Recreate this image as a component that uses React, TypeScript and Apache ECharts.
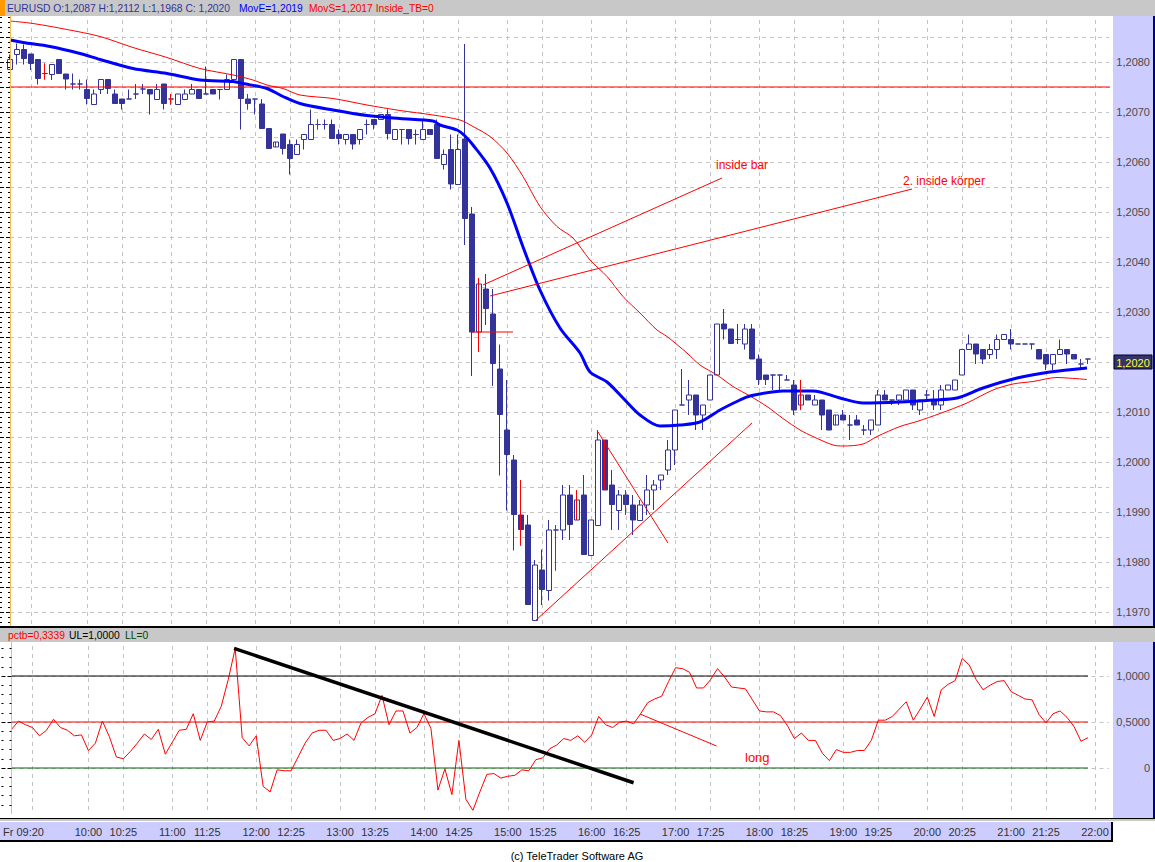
import React, { useEffect, useRef } from "react";
import * as echarts from "echarts";

// ---------- axis / tick labels ----------
const TICK_LABELS = [
  "09:20", "10:00", "10:25", "11:00", "11:25", "12:00", "12:25", "13:00", "13:25",
  "14:00", "14:25", "15:00", "15:25", "16:00", "16:25", "17:00", "17:25", "18:00",
  "18:25", "19:00", "19:25", "20:00", "20:25", "21:00", "21:25", "22:00",
];
const FIRST_SLOT = "09:05";
const SLOT_COUNT = 158; // 5-minute slots 09:05 .. 22:10
const PRICE_MIN = 1.1965;
const PRICE_MAX = 1.209;
const PRICE_STEP = 0.0005;
const PCT_MIN = -0.5;
const PCT_MAX = 1.5;
const PCT_STEP = 0.5;
const LAST_PRICE = 1.202;
const MARK_LEVEL = 1.2075;
const MARK_SPAN = [-1.43, 157.57]; // horizontal level drawn across the whole panel

// ---------- candles: [open, close, low, high] ----------
const CANDLES: number[][] = [
  [1.20785, 1.20805, 1.20785, 1.20815], [1.20815, 1.20825, 1.20795, 1.20837], [1.20825, 1.20807, 1.20795, 1.20835],
  [1.20816, 1.20797, 1.20784, 1.20816], [1.20805, 1.20767, 1.20755, 1.20805], [1.20777, 1.20777, 1.20765, 1.20797],
  [1.20775, 1.20795, 1.20764, 1.20795], [1.20805, 1.20777, 1.20777, 1.20805], [1.20776, 1.20766, 1.20745, 1.20776],
  [1.20756, 1.20756, 1.20745, 1.20777], [1.20756, 1.20756, 1.20745, 1.20765], [1.20745, 1.20727, 1.20715, 1.20765],
  [1.20715, 1.20736, 1.20715, 1.20745], [1.20745, 1.20765, 1.20736, 1.20765], [1.20765, 1.20747, 1.20736, 1.20765],
  [1.20736, 1.20717, 1.20717, 1.20745], [1.20726, 1.20717, 1.20705, 1.20726], [1.20726, 1.20726, 1.20726, 1.20745],
  [1.20736, 1.20736, 1.20726, 1.20756], [1.20746, 1.20746, 1.20736, 1.20756], [1.20745, 1.20736, 1.20695, 1.20745],
  [1.20725, 1.20745, 1.20725, 1.20756], [1.20756, 1.20717, 1.20705, 1.20756], [1.20726, 1.20726, 1.20715, 1.20736],
  [1.20715, 1.20736, 1.20715, 1.20736], [1.20725, 1.20736, 1.20725, 1.20745], [1.20736, 1.20745, 1.20736, 1.20756],
  [1.20745, 1.20727, 1.20727, 1.20745], [1.20736, 1.20736, 1.20736, 1.20791], [1.20745, 1.20736, 1.20736, 1.20745],
  [1.20745, 1.20745, 1.20725, 1.20745], [1.20745, 1.20765, 1.20745, 1.20775], [1.20765, 1.20805, 1.20765, 1.20805],
  [1.20805, 1.20727, 1.20665, 1.20805], [1.20726, 1.20717, 1.20705, 1.20736], [1.20726, 1.20726, 1.20695, 1.20726],
  [1.20716, 1.20667, 1.20667, 1.20726], [1.20667, 1.20627, 1.20627, 1.20667], [1.2063, 1.2064, 1.2063, 1.2064],
  [1.20656, 1.20627, 1.20615, 1.20656], [1.20635, 1.20607, 1.20575, 1.20645], [1.20615, 1.20635, 1.20615, 1.20645],
  [1.20645, 1.20655, 1.20625, 1.20655], [1.20645, 1.20675, 1.20645, 1.20705], [1.20675, 1.20675, 1.20665, 1.20685],
  [1.20675, 1.20675, 1.20665, 1.20685], [1.20675, 1.20647, 1.20647, 1.20685], [1.20655, 1.20647, 1.20635, 1.20665],
  [1.20645, 1.20655, 1.20635, 1.20655], [1.20655, 1.20636, 1.20625, 1.20655], [1.20645, 1.20665, 1.20635, 1.20665],
  [1.20675, 1.20675, 1.20655, 1.20685], [1.20685, 1.20675, 1.20665, 1.20685], [1.20685, 1.20695, 1.20685, 1.20695],
  [1.20695, 1.20657, 1.20645, 1.20705], [1.20645, 1.20665, 1.20645, 1.20665], [1.20665, 1.20665, 1.20635, 1.20665],
  [1.20665, 1.20647, 1.20635, 1.20665], [1.20655, 1.20655, 1.20635, 1.20665], [1.20645, 1.20665, 1.20645, 1.20685],
  [1.20665, 1.20655, 1.20655, 1.20665], [1.20675, 1.20607, 1.20607, 1.20685], [1.20595, 1.20615, 1.20585, 1.20625],
  [1.20625, 1.20556, 1.20545, 1.20655], [1.20555, 1.20625, 1.20555, 1.20655], [1.20646, 1.20487, 1.20434, 1.20836],
  [1.20496, 1.2026, 1.20172, 1.2051], [1.2026, 1.20356, 1.2022, 1.20368], [1.20346, 1.20307, 1.20274, 1.20376],
  [1.20296, 1.20197, 1.20152, 1.20346], [1.20186, 1.20095, 1.19973, 1.20235], [1.20064, 1.20015, 1.19903, 1.20164],
  [1.20004, 1.19895, 1.19823, 1.20014], [1.19894, 1.19865, 1.19833, 1.19964], [1.19874, 1.19715, 1.19715, 1.19894],
  [1.19683, 1.19794, 1.19683, 1.19804], [1.19784, 1.19745, 1.19714, 1.19825], [1.19743, 1.19864, 1.19723, 1.19884],
  [1.19864, 1.19864, 1.19783, 1.19874], [1.19864, 1.19934, 1.19844, 1.19954], [1.19934, 1.19875, 1.19844, 1.19954],
  [1.19884, 1.19924, 1.19884, 1.19944], [1.19934, 1.19815, 1.19815, 1.19974], [1.19813, 1.19884, 1.19813, 1.19884],
  [1.19873, 1.20044, 1.19873, 1.20064], [1.20044, 1.19944, 1.19944, 1.20044], [1.19954, 1.19915, 1.19864, 1.19984],
  [1.19903, 1.19934, 1.19864, 1.19944], [1.19934, 1.19915, 1.19894, 1.19944], [1.19914, 1.19884, 1.19854, 1.19934],
  [1.19883, 1.19914, 1.19883, 1.19924], [1.19914, 1.19944, 1.19894, 1.19974], [1.19944, 1.19954, 1.19904, 1.19964],
  [1.19964, 1.19974, 1.19944, 1.19974], [1.19984, 1.20024, 1.19974, 1.20044], [1.20024, 1.20104, 1.19994, 1.20104],
  [1.20114, 1.20114, 1.20114, 1.20186], [1.20124, 1.20134, 1.20094, 1.20164], [1.20134, 1.20094, 1.20064, 1.20134],
  [1.20094, 1.20114, 1.20064, 1.20114], [1.20124, 1.20174, 1.20124, 1.20174], [1.20174, 1.20276, 1.20174, 1.20276],
  [1.20276, 1.20266, 1.20245, 1.20306], [1.20266, 1.20237, 1.20237, 1.20266], [1.20245, 1.20245, 1.20236, 1.20276],
  [1.20236, 1.20266, 1.20225, 1.20276], [1.20266, 1.20206, 1.20206, 1.20276], [1.20206, 1.20165, 1.20154, 1.20215],
  [1.20174, 1.20165, 1.20154, 1.20174], [1.20174, 1.20174, 1.20144, 1.20174], [1.20174, 1.20174, 1.20144, 1.20174],
  [1.20164, 1.20164, 1.20164, 1.20174], [1.20154, 1.20104, 1.20094, 1.20164], [1.20114, 1.20134, 1.20104, 1.20164],
  [1.20134, 1.20124, 1.20124, 1.20134], [1.20114, 1.20124, 1.20114, 1.20134], [1.20124, 1.20094, 1.20064, 1.20124],
  [1.20104, 1.20064, 1.20064, 1.20104], [1.20074, 1.20094, 1.20074, 1.20094], [1.20094, 1.20084, 1.20084, 1.20104],
  [1.20074, 1.20074, 1.20044, 1.20094], [1.20084, 1.20074, 1.20074, 1.20094], [1.20064, 1.20064, 1.20054, 1.20074],
  [1.20064, 1.20084, 1.20054, 1.20084], [1.20074, 1.20134, 1.20074, 1.20144], [1.20134, 1.20124, 1.20124, 1.20144],
  [1.20124, 1.20124, 1.20114, 1.20124], [1.20124, 1.20134, 1.20114, 1.20134], [1.20124, 1.20144, 1.20124, 1.20144],
  [1.20144, 1.20114, 1.20104, 1.20144], [1.20104, 1.20124, 1.20094, 1.20124], [1.20134, 1.20134, 1.20124, 1.20144],
  [1.20124, 1.20114, 1.20104, 1.20144], [1.20114, 1.20144, 1.20104, 1.20154], [1.20144, 1.20154, 1.20144, 1.20154],
  [1.20144, 1.20164, 1.20144, 1.20164], [1.20174, 1.20225, 1.20174, 1.20225], [1.20225, 1.20236, 1.20225, 1.20255],
  [1.20236, 1.20216, 1.20196, 1.20236], [1.20225, 1.20206, 1.20196, 1.20225], [1.20215, 1.20225, 1.20206, 1.20236],
  [1.20225, 1.20245, 1.20206, 1.20255], [1.20245, 1.20255, 1.20245, 1.20255], [1.20245, 1.20236, 1.20225, 1.20266],
  [1.20236, 1.20236, 1.20236, 1.20236], [1.20236, 1.20236, 1.20236, 1.20236], [1.20236, 1.20236, 1.20225, 1.20236],
  [1.20225, 1.20206, 1.20206, 1.20225], [1.20215, 1.20196, 1.20184, 1.20215], [1.20196, 1.20215, 1.20184, 1.20215],
  [1.20215, 1.20225, 1.20215, 1.20245], [1.20225, 1.20216, 1.20196, 1.20225], [1.20215, 1.20206, 1.20206, 1.20215],
  [1.20196, 1.20196, 1.20186, 1.20206], [1.20206, 1.20206, 1.20196, 1.20206],
];
// candles flagged in red (inside bars)
const RED_BARS = [5, 23, 34, 38, 44, 60, 67, 73, 78, 81, 85, 88, 113, 114, 118, 144, 152];

// ---------- moving averages: [bar position, price] ----------
const MOV_E: number[][] = [
  [0, 1.20844], [1.86, 1.20839], [5.71, 1.20831], [10, 1.20817], [12.86, 1.20805], [17.57, 1.20787],
  [22.43, 1.20777], [27.14, 1.20764], [31.86, 1.20761], [33.29, 1.20757], [36.71, 1.20747], [39, 1.20731],
  [41.43, 1.20717], [46.14, 1.20704], [51, 1.20693], [55.71, 1.20687], [60.43, 1.20682], [61.43, 1.20674],
  [63.86, 1.20664], [65, 1.20652], [66.14, 1.20634], [68.57, 1.20588], [71, 1.20518], [73.29, 1.2043],
  [75.71, 1.20344], [78.57, 1.20268], [81.43, 1.20218], [82.86, 1.2018], [85.29, 1.2016], [87.57, 1.20128],
  [90, 1.20094], [92.86, 1.20072], [95.71, 1.20074], [98.57, 1.2008], [101.43, 1.20104], [104.29, 1.20124],
  [105.71, 1.20132], [110.43, 1.20142], [114.71, 1.20142], [118.57, 1.20128], [121.86, 1.20118],
  [127.14, 1.2012], [131.86, 1.20124], [135.29, 1.20128], [139, 1.20148], [143.86, 1.20168],
  [148.57, 1.2018], [153.86, 1.20188],
];
const MOV_S: number[][] = [
  [0, 1.20882], [3.29, 1.20877], [8.14, 1.20865], [12.86, 1.20851], [17.57, 1.20829], [22.43, 1.20809],
  [27.14, 1.20787], [31.86, 1.20774], [34.71, 1.20764], [36.71, 1.20754], [39, 1.20747], [41.43, 1.20734],
  [46.14, 1.20727], [51, 1.20714], [55.71, 1.20703], [60.43, 1.20694], [64.29, 1.20684], [66.14, 1.20671],
  [68.57, 1.20651], [71, 1.20618], [73.29, 1.20571], [75.71, 1.20511], [78.14, 1.20471], [80.43, 1.20448],
  [82.86, 1.20404], [85.29, 1.20371], [87.57, 1.20331], [90, 1.20298], [92.43, 1.20264], [93.86, 1.20251],
  [96.71, 1.20218], [98.57, 1.20194], [101, 1.20174], [103.29, 1.20151], [105.71, 1.20132], [108.14, 1.20111],
  [110.43, 1.20087], [112.86, 1.20064], [114.71, 1.20051], [117.57, 1.20034], [119, 1.20032],
  [121.86, 1.20036], [123.86, 1.20051], [127.14, 1.20071], [129.57, 1.20081], [132.86, 1.20097],
  [136.71, 1.20118], [140.43, 1.20144], [143.29, 1.20156], [146.14, 1.20161], [149.57, 1.20169],
  [151, 1.20168], [153.86, 1.20165],
];

// ---------- %b indicator ----------
const PCTB = [
  0.42, 0.51, 0.47, 0.44, 0.35, 0.41, 0.53, 0.44, 0.41, 0.35, 0.36, 0.19, 0.27, 0.51, 0.34, 0.12, 0.1, 0.18,
  0.27, 0.37, 0.31, 0.42, 0.15, 0.28, 0.41, 0.42, 0.59, 0.3, 0.5, 0.51, 0.67, 0.96, 1.3, 0.33, 0.24, 0.35,
  -0.2, -0.26, -0.02, -0.03, -0.03, 0.12, 0.27, 0.38, 0.41, 0.41, 0.3, 0.32, 0.37, 0.3, 0.49, 0.55, 0.59, 0.79,
  0.47, 0.62, 0.62, 0.38, 0.44, 0.59, 0.43, -0.24, -0.01, -0.29, 0.3, -0.34, -0.46, -0.26, -0.07, -0.06, -0.11,
  -0.09, -0.08, -0.02, -0.03, 0.09, 0.11, 0.21, 0.25, 0.32, 0.3, 0.35, 0.28, 0.36, 0.56, 0.47, 0.44, 0.5, 0.51,
  0.48, 0.59, 0.71, 0.75, 0.78, 0.94, 1.09, 1.08, 1.04, 0.87, 0.87, 0.96, 1.08, 0.99, 0.88, 0.87, 0.86, 0.74,
  0.62, 0.61, 0.61, 0.57, 0.46, 0.32, 0.38, 0.3, 0.3, 0.16, 0.08, 0.2, 0.17, 0.17, 0.19, 0.19, 0.3, 0.52, 0.52,
  0.56, 0.64, 0.72, 0.52, 0.64, 0.77, 0.56, 0.85, 0.91, 0.95, 1.19, 1.12, 0.96, 0.85, 0.9, 0.94, 0.95, 0.83,
  0.79, 0.75, 0.74, 0.58, 0.49, 0.59, 0.62, 0.55, 0.45, 0.29, 0.33,
];
const UL = 1.0;
const MID = 0.5;
const LL = 0;

// ---------- drawn annotations (bar position, value) ----------
const TREND_TOP: number[][][] = [
  [[67.57, 1.20354], [101.71, 1.20568]], // inside bar
  [[68.57, 1.20332], [128.86, 1.20546]], // 2. inside körper
  [[66.0, 1.2026], [71.86, 1.2026]],
  [[84.0, 1.2006], [94.0, 1.19838]],
  [[75.0, 1.19682], [106.0, 1.20078]],
];
const TREND_BLACK: number[][] = [[31.84, 1.3], [88.99, -0.16]];
const TREND_LONG: number[][] = [[89.9, 0.587], [100.86, 0.239]];

const NAVY = "#333399";
const GRID_COLOR = "#c4c4c4";
const FONT = '"Liberation Sans", Arial, Helvetica, sans-serif';
const HEAD_SIZE = 10.3;

function makeCategories(): string[] {
  const [h, m] = FIRST_SLOT.split(":").map(Number);
  const out: string[] = [];
  for (let k = 0; k < SLOT_COUNT; k++) {
    const t = h * 60 + m + 5 * k;
    const hh = Math.floor(t / 60);
    const mm = t % 60;
    out.push(String(hh).padStart(2, "0") + ":" + String(mm).padStart(2, "0"));
  }
  return out;
}

let gid = 0;
const txt = (x: number, y: number, text: string, fill: string, size = 11, align = "left", z = 110) => ({
  id: "g" + gid++,
  type: "text",
  x,
  y,
  z,
  silent: true,
  style: {
    text,
    fill,
    font: `${size}px ${FONT}`,
    textAlign: align,
    textVerticalAlign: "middle",
    align,
    verticalAlign: "middle",
  },
});
const rect = (x: number, y: number, w: number, h: number, fill: string, z = 100) => ({
  id: "g" + gid++,
  type: "rect",
  shape: { x, y, width: w, height: h },
  style: { fill },
  z,
  silent: true,
});

function buildOption() {
  const cats = makeCategories();
  const tickSet = new Set(TICK_LABELS);
  const isTick = (_i: number, v: string) => tickSet.has(v);
  const vSplit = { show: true, interval: isTick, lineStyle: { color: GRID_COLOR, type: [4, 4], width: 1 } };
  const hSplit = { show: true, lineStyle: { color: GRID_COLOR, type: [4, 4], width: 1 } };
  const fmtPrice = (v: number) => {
    const r = Math.round(v * 10000);
    if (r % 10 !== 0 || r >= Math.round(PRICE_MAX * 10000)) return "";
    return v.toFixed(4).replace(".", ",");
  };
  const fmtPct = (v: number) => {
    if (Math.abs(v - 1) < 1e-9) return "1,0000";
    if (Math.abs(v - 0.5) < 1e-9) return "0,5000";
    if (Math.abs(v) < 1e-9) return "0";
    return "";
  };
  const redOverlay = CANDLES.map((c, i) => (RED_BARS.includes(i) ? c : ["-", "-", "-", "-"]));
  const lineSeries = (xi: number, yi: number, data: any, color: string, width: number, smooth: any = false) => ({
    type: "line",
    xAxisIndex: xi,
    yAxisIndex: yi,
    data,
    showSymbol: false,
    symbol: "none",
    smooth,
    silent: true,
    clip: false,
    lineStyle: { color, width },
    itemStyle: { color },
    z: 3,
  });
  const n = CANDLES.length - 1;

  const rightAxis = (grid: number, min: number, max: number, step: number, fmt: any) => ({
    type: "value",
    gridIndex: grid,
    position: "right",
    offset: 4,
    min,
    max,
    interval: step,
    z: 5,
    axisLine: { show: true, lineStyle: { color: "#f0c050", width: 1 } },
    axisTick: { show: true, inside: true, length: 4, lineStyle: { color: "#000" } },
    minorTick: { show: true, splitNumber: 5, length: 2, lineStyle: { color: "#000" } },
    axisLabel: { formatter: fmt, align: "right", margin: 37, color: "#4a4a4a", fontSize: 11, fontFamily: FONT },
    splitLine: { show: false },
  });
  const leftAxis = (grid: number, min: number, max: number, step: number) => ({
    type: "value",
    gridIndex: grid,
    position: "left",
    offset: 10,
    min,
    max,
    interval: step,
    axisLine: { show: false },
    axisTick: { show: true, inside: true, length: 4, lineStyle: { color: "#000" } },
    minorTick: { show: true, splitNumber: 5, length: 2, lineStyle: { color: "#000" } },
    axisLabel: { show: false },
    splitLine: hSplit,
  });

  return {
    animation: false,
    grid: [
      { left: 10, right: 46, top: 12, height: 625 },
      { left: 10, right: 46, top: 630, height: 184 },
    ],
    xAxis: [
      {
        type: "category", gridIndex: 0, data: cats, boundaryGap: false,
        axisLine: { show: false }, axisTick: { show: false }, axisLabel: { show: false }, splitLine: vSplit,
      },
      { type: "value", gridIndex: 0, min: 0, max: SLOT_COUNT - 1, show: false },
      {
        type: "category", gridIndex: 1, data: cats, boundaryGap: false,
        axisLine: { show: false }, axisTick: { show: false },
        axisLabel: {
          interval: isTick,
          formatter: (v: string) => (v === TICK_LABELS[0] ? "{f|Fr " + v + "}" : v),
          rich: { f: { padding: [0, 18, 0, 0], fontSize: 11, fontFamily: FONT, color: "#333" } },
          color: "#333", fontSize: 11, fontFamily: FONT, margin: 12,
        },
        splitLine: vSplit,
      },
      { type: "value", gridIndex: 1, min: 0, max: SLOT_COUNT - 1, show: false },
    ],
    yAxis: [
      rightAxis(0, PRICE_MIN, PRICE_MAX, PRICE_STEP, fmtPrice),
      leftAxis(0, PRICE_MIN, PRICE_MAX, PRICE_STEP),
      rightAxis(1, PCT_MIN, PCT_MAX, PCT_STEP, fmtPct),
      leftAxis(1, PCT_MIN, PCT_MAX, PCT_STEP),
    ],
    series: [
      lineSeries(1, 0, [[MARK_SPAN[0], MARK_LEVEL], [MARK_SPAN[1], MARK_LEVEL]], "#ff0000", 1),
      {
        type: "candlestick",
        xAxisIndex: 0,
        yAxisIndex: 0,
        data: CANDLES,
        barWidth: 5,
        clip: false,
        z: 2,
        itemStyle: {
          color: "#ffffff", color0: NAVY, borderColor: NAVY, borderColor0: NAVY,
          borderColorDoji: NAVY, borderWidth: 1,
        },
      },
      {
        type: "candlestick",
        xAxisIndex: 0,
        yAxisIndex: 0,
        data: redOverlay,
        barWidth: 1,
        clip: false,
        z: 3,
        itemStyle: {
          color: "#ff0000", color0: "#ff0000", borderColor: "#ff0000", borderColor0: "#ff0000",
          borderColorDoji: "#ff0000", borderWidth: 1,
        },
      },
      lineSeries(1, 0, MOV_S, "#ff0000", 1, 0.3),
      lineSeries(1, 0, MOV_E, "#0000ff", 3, 0.3),
      ...TREND_TOP.map((seg) => lineSeries(1, 0, seg, "#ff0000", 1)),
      lineSeries(3, 2, [[0, UL], [n, UL]], "#000000", 1),
      lineSeries(3, 2, [[0, MID], [n, MID]], "#ff0000", 1),
      lineSeries(3, 2, [[0, LL], [n, LL]], "#006600", 1),
      lineSeries(2, 2, PCTB, "#ff0000", 1),
      lineSeries(3, 2, TREND_BLACK, "#000000", 3.5),
      lineSeries(3, 2, TREND_LONG, "#ff0000", 1),
    ],
    graphic: {
      elements: [
        // top header
        rect(0, 0, 1155, 16, "#c8c8c8"),
        rect(0, 0, 5, 16, "#ff9900", 101),
        txt(7, 8, "EURUSD O:1,2087 H:1,2112 L:1,1968 C: 1,2020", NAVY, HEAD_SIZE),
        txt(239, 8, "MovE=1,2019", "#0000ff", HEAD_SIZE),
        txt(309, 8, "MovS=1,2017 Inside_TB=0", "#ff0000", HEAD_SIZE),
        // separator + lower header
        rect(0, 626, 1155, 2, "#000000"),
        rect(0, 628, 1155, 14, "#c8c8c8"),
        txt(8, 635, "pctb=0,3339", "#ff0000", HEAD_SIZE),
        txt(69, 635, "UL=1,0000", "#000000", HEAD_SIZE),
        txt(125, 635, "LL=0", "#004400", HEAD_SIZE),
        // bottom frame area
        rect(0, 814, 1113, 4, "#ffffff", 99),
        // annotations
        txt(716, 165, "inside bar", "#ff0000", 12),
        txt(903, 181, "2. inside körper", "#ff0000", 12),
        txt(745, 757, "long", "#ff0000", 13),
        // copyright
        txt(577, 856, "(c) TeleTrader Software AG", "#000000", 11, "center"),
      ],
    },
  };
}

export default function App() {
  const ref = useRef<HTMLDivElement>(null);
  useEffect(() => {
    if (!ref.current) return;
    const chart = echarts.init(ref.current, undefined, { renderer: "svg" });
    chart.setOption(buildOption() as any);
    // last-price tag placed through the price scale
    const yTag = chart.convertToPixel({ yAxisIndex: 0 }, LAST_PRICE) as number;
    if (typeof yTag === "number" && isFinite(yTag)) {
      chart.setOption({
        graphic: {
          elements: [
            { id: "tagBox", type: "rect", shape: { x: 1114, y: yTag - 7, width: 38, height: 14 }, style: { fill: "#333366", stroke: "#000033", lineWidth: 1 }, z: 120, silent: true },
            {
              id: "tagText", type: "text", x: 1133, y: yTag + 0.5, z: 121, silent: true,
              style: { text: "1,2020", fill: "#ffff33", font: `11px ${FONT}`, textAlign: "center", textVerticalAlign: "middle", align: "center", verticalAlign: "middle" },
            },
          ],
        },
      } as any);
    }
    return () => chart.dispose();
  }, []);
  const band = (left: number, top: number, width: number, height: number, extra: any = {}) => (
    <div style={{ position: "absolute", left, top, width, height, background: "#ccccff", ...extra }} />
  );
  return (
    <div style={{ position: "absolute", left: 0, top: 0, width: 1155, height: 862, background: "#ffffff" }}>
      {band(1113, 16, 40, 610)}
      {band(1113, 642, 40, 176)}
      {band(0, 822, 1113, 20, { borderRight: "2px solid #000", borderBottom: "2px solid #000", boxSizing: "border-box" })}
      <div style={{ position: "absolute", left: 1153, top: 16, width: 2, height: 802, background: "#000080" }} />
      <div style={{ position: "absolute", left: 0, top: 818, width: 1155, height: 3, background: "#c8c8c8", borderTop: "1px solid #000", boxSizing: "border-box" }} />
      <div ref={ref} style={{ position: "absolute", left: 0, top: 0, width: 1155, height: 862 }} />
    </div>
  );
}
